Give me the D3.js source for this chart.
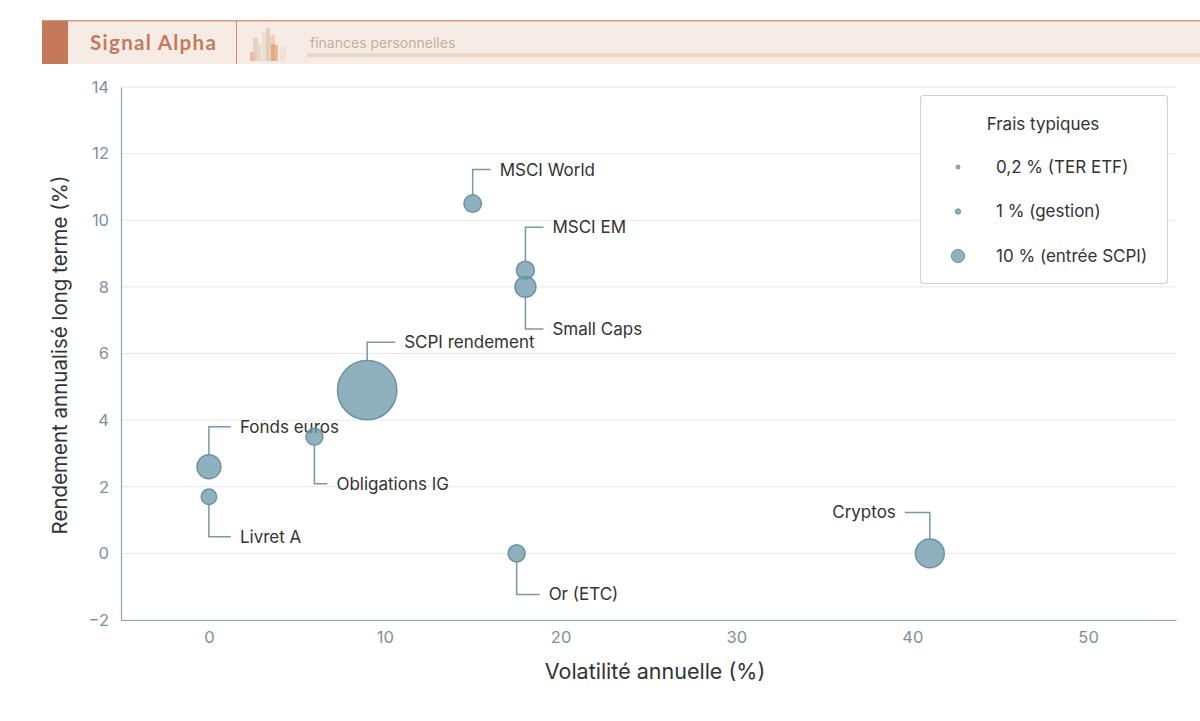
<!DOCTYPE html>
<html><head><meta charset="utf-8">
<script src="https://cdn.jsdelivr.net/npm/d3@7"></script>
<style>
html,body{margin:0;padding:0;background:#fff;}
svg{display:block;font-family:Inter,"Noto Sans",sans-serif;}
</style></head>
<body>
<svg id="chart" width="1200" height="721"></svg>
<script>
// ---- data ----
const actifs = ["MSCI World","MSCI EM","Small Caps","SCPI rendement","Fonds euros","Livret A","Obligations IG","Or (ETC)","Cryptos"];
const volatilite = [15, 18, 18, 9, 0, 0, 6, 17.5, 41];
const rendement = [10.5, 8.5, 8, 4.9, 2.6, 1.7, 3.5, 0, 0];
const frais = [0.2, 0.25, 0.6, 10, 1, 0, 0.15, 0.15, 1.8];
const legendeFrais = [0.2, 1, 10];
const legendeLabels = ["0,2 % (TER ETF)", "1 % (gestion)", "10 % (entrée SCPI)"];
const xTicks = [0, 10, 20, 30, 40, 50];
const yTicks = [-2, 0, 2, 4, 6, 8, 10, 12, 14];

// annotation layout (pixel offsets: vertical leader, side)
const annot = {
  "MSCI World":{dy:-34, side:1, len:18},
  "MSCI EM":{dy:-43, side:1, len:18},
  "Small Caps":{dy:42, side:1, len:18},
  "SCPI rendement":{dy:-48, side:1, len:28},
  "Fonds euros":{dy:-40, side:1, len:22},
  "Livret A":{dy:40, side:1, len:22},
  "Obligations IG":{dy:47, side:1, len:13},
  "Or (ETC)":{dy:41, side:1, len:23},
  "Cryptos":{dy:-41, side:-1, len:25}
};

const svg = d3.select("#chart");
const W = 1200, H = 721;
const m = {left:121, right:1176, top:87, bottom:620};

// ---- header ----
const hd = svg.append("g");
hd.append("rect").attr("x",42).attr("y",21).attr("width",W-42).attr("height",43).attr("fill","#f6ebe5");
hd.append("rect").attr("x",42).attr("y",20).attr("width",W-42).attr("height",1.5).attr("fill","#d89a7e");
hd.append("rect").attr("x",42).attr("y",21).attr("width",26).attr("height",43).attr("fill","#c47a5a");
hd.append("rect").attr("x",236).attr("y",21).attr("width",1).attr("height",43).attr("fill","#d08a6c");
hd.append("text").attr("x",90).attr("y",50).attr("fill","#c47a5a")
  .attr("font-family","Lato, 'Open Sans', sans-serif").attr("font-weight",700).attr("font-size",20.5)
  .attr("letter-spacing",1.3).text("Signal Alpha");
const icon = [
  {x:250,y:52,w:6,h:9,c:"#e2b08f"},
  {x:253,y:38,w:5,h:23,c:"#ecc4c0"},
  {x:256,y:44,w:5,h:17,c:"#e3d3c3"},
  {x:262,y:32,w:6,h:29,c:"#eadccc"},
  {x:266,y:28,w:4,h:33,c:"#dccab0"},
  {x:269,y:35,w:6,h:26,c:"#eec9c2"},
  {x:271,y:44,w:4,h:17,c:"#dea06a"},
  {x:274,y:45,w:4,h:16,c:"#e4ac7c"},
  {x:280,y:47,w:6,h:14,c:"#eae0d4"}
];
hd.selectAll("rect.ic").data(icon).join("rect").attr("class","ic")
  .attr("x",d=>d.x).attr("y",d=>d.y).attr("width",d=>d.w).attr("height",d=>d.h)
  .attr("fill",d=>d.c).attr("opacity",0.8);
hd.append("text").attr("x",310).attr("y",48).attr("fill","#c9ad9c")
  .attr("font-family","Inter, sans-serif").attr("font-size",14).text("finances personnelles");
hd.append("rect").attr("x",307).attr("y",53).attr("width",W-307).attr("height",4).attr("fill","#e6d7c9");

// ---- scales ----
const x = d3.scaleLinear().domain([-5,55]).range([m.left,m.right]);
const y = d3.scaleLinear().domain([-2,14]).range([m.bottom,m.top]);
const area = d3.scaleLinear().domain([0,10]).range([60,880]);
const r = f => Math.sqrt(area(f));

// grid
svg.append("g").selectAll("line").data(yTicks).join("line")
  .attr("x1",m.left).attr("x2",m.right).attr("y1",d=>y(d)).attr("y2",d=>y(d))
  .attr("stroke","#e8e8e8").attr("stroke-width",1);

// axes
const axisColor = "#8ea3b0", tickColor = "#7a91a1";
const gx = svg.append("g").attr("transform",`translate(0,${m.bottom})`)
  .call(d3.axisBottom(x).tickValues(xTicks).tickSize(0).tickPadding(11).tickFormat(d3.format("d")));
const gy = svg.append("g").attr("transform",`translate(${m.left},0)`)
  .call(d3.axisLeft(y).tickValues(yTicks).tickSize(0).tickPadding(12).tickFormat(d=>d<0?"\u2212"+Math.abs(d):d));
[gx,gy].forEach(g=>{
  g.select(".domain").attr("stroke",axisColor).attr("stroke-width",1.2);
  g.selectAll("text").attr("fill",tickColor).attr("font-size",16.5).attr("font-family","Inter, sans-serif");
});

svg.append("text").attr("x",655).attr("y",679).attr("text-anchor","middle")
  .attr("fill","#333").attr("font-size",21.5).text("Volatilité annuelle (%)");
svg.append("text").attr("transform",`translate(67,355) rotate(-90)`)
  .attr("text-anchor","middle").attr("fill","#333").attr("font-size",20.5)
  .text("Rendement annualisé long terme (%)");

// ---- data points ----
const pts = actifs.map((a,i)=>({name:a, vx:volatilite[i], vy:rendement[i], f:frais[i]}));
const leaderColor = "#7b98a7";
const ann = svg.append("g");
pts.forEach(p=>{
  const o = annot[p.name];
  const cx = x(p.vx), cy = y(p.vy), ey = cy + o.dy, ex = cx + o.side*o.len;
  const sy = cy + Math.sign(o.dy)*r(p.f);
  ann.append("path").attr("d",`M${cx},${sy}V${ey}H${ex}`).attr("fill","none")
    .attr("stroke",leaderColor).attr("stroke-width",1.5);
  ann.append("text").attr("x",ex + o.side*9).attr("y",ey).attr("dy","0.35em")
    .attr("text-anchor",o.side>0?"start":"end").attr("fill","#333").attr("font-size",17).text(p.name);
});
svg.append("g").selectAll("circle").data(pts).join("circle")
  .attr("cx",d=>x(d.vx)).attr("cy",d=>y(d.vy)).attr("r",d=>r(d.f))
  .attr("fill","#6a97a8").attr("fill-opacity",0.75)
  .attr("stroke","#6a93a3").attr("stroke-width",1.5);

// ---- legend ----
const lg = svg.append("g");
lg.append("rect").attr("x",920.5).attr("y",95.5).attr("width",247).attr("height",188).attr("rx",3)
  .attr("fill","#fff").attr("stroke","#cfd3d7").attr("stroke-width",1.2);
lg.append("text").attr("x",1043).attr("y",124).attr("dy","0.35em").attr("text-anchor","middle")
  .attr("fill","#333").attr("font-size",17).text("Frais typiques");
const ly = d3.scalePoint().domain(legendeLabels).range([167,256]);
legendeFrais.forEach((f,i)=>{
  lg.append("circle").attr("cx",958).attr("cy",ly(legendeLabels[i])).attr("r",r(f)/4.5)
    .attr("fill","#6a97a8").attr("fill-opacity",0.75).attr("stroke","#6a93a3").attr("stroke-width",1);
  lg.append("text").attr("x",996).attr("y",ly(legendeLabels[i])).attr("dy","0.35em")
    .attr("fill","#333").attr("font-size",17).text(legendeLabels[i]);
});
</script>
</body></html>
